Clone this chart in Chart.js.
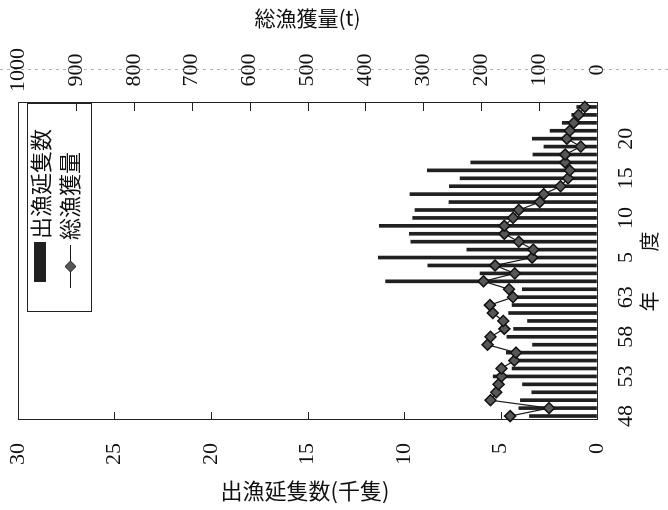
<!DOCTYPE html>
<html lang="ja">
<head>
<meta charset="utf-8">
<title>出漁延隻数と総漁獲量</title>
<script src="https://cdn.jsdelivr.net/npm/chart.js@4/dist/chart.umd.min.js"></script>
<style>
  body { margin: 0; background: #fff; }
  #wrap { position: relative; width: 668px; height: 510px; overflow: hidden; background: #fff; }
  /* the scanned figure is turned a quarter turn, so the chart is drawn upright and rotated */
  #c { position: absolute; left: 0; top: 0; transform-origin: 0 0; transform: translateY(510px) rotate(-90deg); }
  #boatTitle { position: absolute; left: 0; top: 476px; width: 610px; text-align: center;
    font: 22px 'Noto Sans CJK JP', sans-serif; line-height: 26px; color: #111; }
</style>
</head>
<body>
<div id="wrap">
  <canvas id="c" width="510" height="668"></canvas>
  <div id="boatTitle">出漁延隻数(千隻)</div>
</div>
<script>
// 年度: 昭和48〜63, 平成1〜24
const years = ['48','49','50','51','52','53','54','55','56','57','58','59','60','61','62','63',
  '1','2','3','4','5','6','7','8','9','10','11','12','13','14','15','16','17','18','19','20','21','22','23','24'];

// 出漁延隻数 (千隻)
const boats = [3.5, 4.05, 3.97, 3.38, 3.86, 5.38, 4.4, 4.5, 4.7, 3.34, 4.67, 4.32, 3.6, 4.58, 4.4, 4.28,
  3.87, 10.95, 6.06, 8.77, 11.33, 6.75, 9.65, 9.72, 11.28, 9.55, 9.43, 7.67, 9.69, 7.65, 7.1, 8.79,
  6.54, 3.32, 2.75, 3.35, 2.43, 1.8, 1.31, 1.05];

// 総漁獲量 (t)
const catchTons = [150, 83, 184, 174, 170, 165, 165, 143, 140, 189, 184, 160, 162, 180, 185, 145,
  152, 196, 142, 176, 112, 110, 135, 160, 160, 145, 135, 99, 92, 63, 50, 47,
  55, 55, 28, 52, 47, 40, 32, 21];

const tickFont = { family: "'Liberation Serif', serif", size: 22 };
const jpFont = "'Noto Sans CJK JP', sans-serif";

const paperMarks = {
  id: 'paperMarks',
  beforeDraw(chart) {
    const ctx = chart.ctx;
    ctx.save();
    ctx.strokeStyle = '#b4b4b4';
    ctx.setLineDash([3, 4]);
    ctx.beginPath();
    ctx.moveTo(440.5, 0);
    ctx.lineTo(440.5, chart.height);
    ctx.stroke();
    ctx.restore();
  },
  afterDraw(chart) {
    const { ctx, chartArea: a } = chart;
    const ds = chart.data.datasets;
    ctx.save();
    ctx.strokeStyle = '#222';
    ctx.lineWidth = 1;
    ctx.beginPath();
    ctx.moveTo(a.left, a.top + 0.5);
    ctx.lineTo(a.right, a.top + 0.5);
    ctx.stroke();

    // inward tick marks on both value axes
    ctx.beginPath();
    for (const id of ['y', 'y2']) {
      const s = chart.scales[id];
      const edge = id === 'y' ? a.left : a.right;
      const dir = id === 'y' ? 1 : -1;
      s.ticks.forEach(t => {
        const p = Math.round(s.getPixelForValue(t.value)) + 0.5;
        ctx.moveTo(edge, p);
        ctx.lineTo(edge + dir * 8, p);
      });
    }
    ctx.stroke();

    // legend box
    ctx.strokeRect(198.5, 27.5, a.right - 199, 64);
    ctx.fillStyle = ds[0].backgroundColor;
    ctx.fillRect(228, 34, 40, 12);
    ctx.strokeStyle = ds[1].borderColor;
    ctx.beginPath();
    ctx.moveTo(222, 70.5);
    ctx.lineTo(265, 70.5);
    ctx.stroke();
    ctx.beginPath();
    ctx.moveTo(243.5, 65);
    ctx.lineTo(249, 70.5);
    ctx.lineTo(243.5, 76);
    ctx.lineTo(238, 70.5);
    ctx.closePath();
    ctx.fillStyle = ds[1].pointBackgroundColor;
    ctx.fill();
    ctx.stroke();

    ctx.font = '22px ' + jpFont;
    ctx.fillStyle = '#111';
    ctx.textBaseline = 'middle';
    ctx.textAlign = 'left';
    ctx.fillText(ds[0].label, 271, 41);
    ctx.fillText(ds[1].label, 270, 70);
    ctx.restore();
  }
};

const noEdgePadding = s => { s.paddingTop = 0; s.paddingBottom = 0; };

new Chart(document.getElementById('c'), {
  data: {
    labels: years,
    datasets: [
      {
        type: 'bar',
        label: '出漁延隻数',
        data: boats,
        yAxisID: 'y',
        backgroundColor: '#202020',
        barThickness: 3,
        order: 1
      },
      {
        type: 'line',
        label: '総漁獲量',
        data: catchTons,
        yAxisID: 'y2',
        borderColor: '#1a1a1a',
        borderWidth: 1.2,
        pointStyle: 'rectRot',
        pointRadius: 5.5,
        pointBackgroundColor: '#575757',
        pointBorderColor: '#111',
        pointBorderWidth: 1.5,
        order: 0
      }
    ]
  },
  options: {
    responsive: false,
    animation: false,
    devicePixelRatio: 1,
    layout: { padding: { top: 18 } },
    plugins: { legend: { display: false }, tooltip: { enabled: false } },
    scales: {
      x: {
        grid: { drawOnChartArea: false, drawTicks: false },
        border: { color: '#222' },
        ticks: {
          autoSkip: false, maxRotation: 0, padding: 16, color: '#111', font: tickFont,
          callback: (v, i) => (i % 5 === 0 ? years[i] : '')
        },
        title: {
          display: true, text: '年\u3000\u3000度\u3000', color: '#111',
          font: { family: jpFont, size: 20 }, padding: { top: 0, bottom: 7 }
        },
        afterFit: s => { s.height = 71; }
      },
      y: {
        position: 'left',
        min: 0, max: 30,
        grid: { drawOnChartArea: false, drawTicks: false },
        border: { color: '#222' },
        ticks: { stepSize: 5, padding: 23, color: '#111', font: tickFont, callback: v => String(v) },
        afterFit: s => { s.width = 90; noEdgePadding(s); }
      },
      y2: {
        position: 'right',
        min: 0, max: 1000,
        grid: { drawOnChartArea: false, drawTicks: false },
        border: { color: '#222' },
        ticks: { stepSize: 100, padding: 11, crossAlign: 'center', color: '#111', font: tickFont, callback: v => String(v) },
        title: {
          display: true, text: '総漁獲量(t)', color: '#111',
          font: { family: jpFont, size: 21 }, padding: { top: 5, bottom: 0 }
        },
        afterFit: s => { s.width = 103; noEdgePadding(s); }
      }
    }
  },
  plugins: [paperMarks]
});
</script>
</body>
</html>
